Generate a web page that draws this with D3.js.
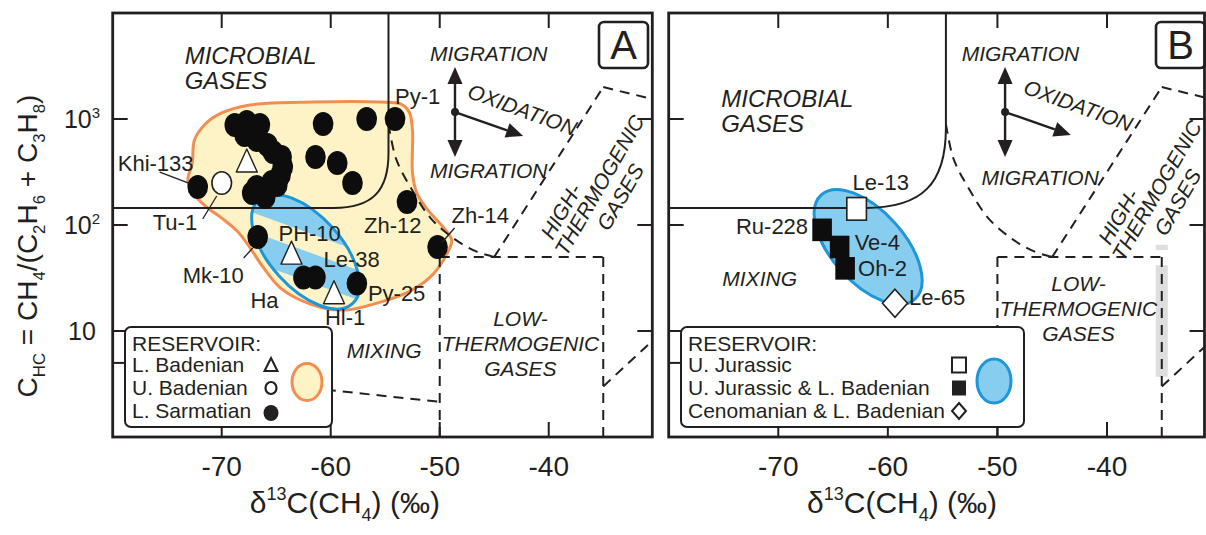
<!DOCTYPE html>
<html>
<head>
<meta charset="utf-8">
<script src="https://cdn.jsdelivr.net/npm/d3@7"></script>
<style>
  html, body { margin: 0; padding: 0; background: #fff; }
  svg { display: block; }
</style>
</head>
<body>
<svg id="chart" width="1206" height="535"></svg>
<script>
// ---------------------------------------------------------------------------
// Data: δ13C(CH4) in ‰ and C_HC = CH4/(C2H6 + C3H8)
// ---------------------------------------------------------------------------
const xTickValues = [-70, -60, -50, -40];
const yTickValues = [1000, 100, 10];
const yTickExponents = ["3", "2", ""];
const yMinorTickValues = [5];

// Panel A — L. Sarmatian reservoirs (filled circles)
const sarmatianDelta = [-72.2, -68.8, -67.7, -66.5, -67.9, -66.8, -65.8, -65.3, -64.5, -64.4,
                        -64.6, -65.4, -64.9, -66.8, -67.2, -66.0, -66.7, -62.5, -61.4, -57.6,
                        -60.7, -56.7, -54.1, -61.4, -59.4, -58.0, -53.0, -50.2];
const sarmatianChc   = [228, 878, 937, 878, 706, 634, 569, 488, 438, 352,
                        296, 255, 238, 228, 200, 184, 77, 32, 32, 28,
                        897, 1000, 1000, 438, 384, 249, 165, 62];
// Panel A — L. Badenian reservoirs (triangles)
const lowerBadenianDelta = [-67.7, -63.6, -59.7];
const lowerBadenianChc   = [384, 52, 22];
// Panel A — U. Badenian reservoir (open circle)
const upperBadenianDelta = [-70.0];
const upperBadenianChc   = [249];

// Panel A — sample names and the sample each one refers to
const labelNamesA = ["Py-1", "Khi-133", "Tu-1", "Mk-10", "Ha", "Le-38", "PH-10", "Hl-1", "Py-25", "Zh-12", "Zh-14"];
const labelDeltaA = [-54.1, -72.2, -70.0, -66.7, -62.5, -61.4, -63.6, -59.7, -57.6, -53.0, -50.2];
const labelChcA   = [1000, 228, 249, 77, 32, 32, 52, 22, 28, 165, 62];

// Panel A — envelope of the L. Sarmatian + Badenian gases
const envelopeDelta = [-72.7, -72.5, -71.5, -70.0, -67.4, -61.6, -55.5, -53.6, -52.8, -52.5,
                       -52.5, -52.1, -51.1, -49.7, -48.9, -49.5, -50.9, -53.0, -55.7, -58.5,
                       -60.7, -62.8, -64.7, -66.2, -67.4, -68.5, -70.0, -71.5, -72.6, -73.1];
const envelopeChc   = [384, 634, 897, 1140, 1355, 1446, 1446, 1386, 1164, 787,
                       310, 200, 139, 96, 72, 50, 32, 23, 18.4, 15.8,
                       16.5, 19.6, 26, 40, 61, 86, 116, 151, 200, 266];

// Panel B — U. Jurassic (open square)
const jurassicDelta = [-62.85];
const jurassicChc   = [142];
// Panel B — U. Jurassic & L. Badenian (filled squares)
const jurBadenianDelta = [-66.0, -64.4, -63.9];
const jurBadenianChc   = [90, 62, 39];
// Panel B — Cenomanian & L. Badenian (diamond)
const cenomanianDelta = [-59.35];
const cenomanianChc   = [18.3];

const labelNamesB = ["Le-13", "Ru-228", "Ve-4", "Oh-2", "Le-65"];
const labelDeltaB = [-62.85, -66.0, -64.4, -63.9, -59.35];
const labelChcB   = [142, 90, 62, 39, 18.3];

// Centre of the Jurassic-type gas ellipse in each panel [δ13C, C_HC]
const ellipseCentreA = [-62.3, 56];
const ellipseCentreB = [-61.8, 62];

// Genetic field boundaries (Bernard-type diagram)
const microbialMaxDelta = -54.7;
const microbialMinChc = 145;
const mixingCurveDelta = [-54.7, -54.0, -52.6, -50.8, -48.5, -46.6, -45.0];
const mixingCurveChc   = [900, 420, 220, 115, 72, 56, 50];
const thermoSegments = [
  [[-45, 50], [-35, 2000]],
  [[-35, 2000], [-30, 1500]],
  [[-50, 50], [-35, 50]],
  [[-50, 50], [-50, 1]],
  [[-35, 50], [-35, 1]],
  [[-35, 3], [-30, 9]]
];
const mixingLowSegmentA = [[-62, 2.9], [-50, 2.15]];
// light strip along the -35 ‰ line in panel B
const stripChcB = [[65, 58], [41.8, 3.7]];

// Field annotations [δ13C, C_HC]
const migrationTop = { A: [-45.5, 4200], B: [-47.9, 4200] };
const migrationBottom = { A: [-45.5, 330], B: [-46.1, 284] };
const oxidationPos = { A: [-42.4, 1240], B: [-42.6, 1355] };
const arrowCentre = { A: [-48.6, 1164], B: [-49.3, 1164] };
const arrowUpTip = 3093, arrowDownTip = 438;
const arrowRightTip = { A: [-42.35, 692], B: [-43.3, 707] };
const microbialPos = { A: [-73.4, 4000], B: [-75.2, 1578] };
const highThermoPos = { A: [-35.4, 240], B: [-35.5, 214] };
const lowThermoPos = { A: [-42.6, 13.2], B: [-42.6, 28.4] };
const mixingPos = { A: [-55.1, 6.6], B: [-71.7, 31.6] };
const xTitleDelta = -58.7;

// ---------------------------------------------------------------------------
// Layout and styles
// ---------------------------------------------------------------------------
const FONT = "'Liberation Sans', Arial, Helvetica, sans-serif";
const INK = "#231f20";
const YELLOW = "#fdf3c6";
const ORANGE = "#f28e52";
const BLUE_FILL = "#86cdf0";
const BLUE_LINE = "#1f96d8";

const yTop = 13, yBottom = 437;
const y = d3.scaleLog().domain([1, 1e4]).range([yBottom, yTop]);
const xA = d3.scaleLinear().domain([-80, -30.5]).range([112.7, 652.3]);
const xB = d3.scaleLinear().domain([-80, -31.1]).range([668.7, 1204.5]);

const svg = d3.select("#chart").attr("font-family", FONT);
svg.append("rect").attr("width", 1206).attr("height", 535).attr("fill", "#fff");
const defs = svg.append("defs");

// diagonal blue / yellow hatch of the ellipse in panel A
const stripes = defs.append("pattern")
  .attr("id", "stripes").attr("patternUnits", "userSpaceOnUse")
  .attr("width", 46).attr("height", 46)
  .attr("patternTransform", "translate(285,211) rotate(-28)");
stripes.append("rect").attr("width", 46).attr("height", 46).attr("fill", BLUE_FILL);
stripes.append("rect").attr("y", 27).attr("width", 46).attr("height", 18).attr("fill", YELLOW);

// ---------------------------------------------------------------------------
// Helpers
// ---------------------------------------------------------------------------
function rich(sel, parts, size) {
  let shift = 0;
  parts.forEach(p => {
    const target = p.sub ? size * 0.28 : p.sup ? -size * 0.42 : 0;
    sel.append("tspan")
      .attr("dy", target - shift)
      .attr("font-size", (p.sub || p.sup) ? size * 0.6 : size)
      .text(p.t);
    shift = target;
  });
  return sel;
}

function text(g, px, py, str, size, opts = {}) {
  return g.append("text")
    .attr("x", px).attr("y", py)
    .attr("font-size", size)
    .attr("font-style", opts.italic ? "italic" : null)
    .attr("text-anchor", opts.anchor || "start")
    .attr("fill", INK)
    .text(str);
}

function multiline(g, px, py, lines, size, gap, opts = {}) {
  const t = g.append("text")
    .attr("font-size", size)
    .attr("font-style", opts.italic ? "italic" : null)
    .attr("text-anchor", opts.anchor || "start")
    .attr("fill", INK)
    .attr("transform", `translate(${px},${py})` + (opts.rotate ? ` rotate(${opts.rotate})` : ""));
  lines.forEach((l, i) => t.append("tspan").attr("x", 0).attr("y", i * gap).text(l));
  return t;
}

function arrow(g, x0, y0, x1, y1) {
  const len = Math.hypot(x1 - x0, y1 - y0);
  const ux = (x1 - x0) / len, uy = (y1 - y0) / len;
  const hl = 17, hw = 7.5;
  const bx = x1 - ux * hl, by = y1 - uy * hl;
  g.append("line").attr("x1", x0).attr("y1", y0).attr("x2", bx).attr("y2", by)
    .attr("stroke", INK).attr("stroke-width", 2.4);
  g.append("path")
    .attr("d", `M${x1},${y1}L${bx - uy * hw},${by + ux * hw}L${bx + uy * hw},${by - ux * hw}Z`)
    .attr("fill", INK);
}

const marker = {
  circle: (g, cx, cy) => g.append("ellipse").attr("cx", cx).attr("cy", cy).attr("rx", 10.3).attr("ry", 12)
    .attr("fill", "#0d0d0d"),
  openCircle: (g, cx, cy) => g.append("ellipse").attr("cx", cx).attr("cy", cy).attr("rx", 9.8).attr("ry", 11.3)
    .attr("fill", "#fff").attr("stroke", INK).attr("stroke-width", 1.6),
  triangle: (g, cx, cy) => g.append("path")
    .attr("d", `M${cx},${cy - 14}L${cx + 10.5},${cy + 9}L${cx - 10.5},${cy + 9}Z`)
    .attr("fill", "#fff").attr("stroke", INK).attr("stroke-width", 1.4).attr("stroke-linejoin", "round"),
  square: (g, cx, cy) => g.append("rect").attr("x", cx - 9.8).attr("y", cy - 11.3).attr("width", 19.6).attr("height", 22.6)
    .attr("fill", "#fff").attr("stroke", INK).attr("stroke-width", 1.6),
  filledSquare: (g, cx, cy) => g.append("rect").attr("x", cx - 9.8).attr("y", cy - 11.3).attr("width", 19.6).attr("height", 22.6)
    .attr("fill", "#0d0d0d"),
  diamond: (g, cx, cy) => g.append("path")
    .attr("d", `M${cx},${cy - 14}L${cx + 12.5},${cy}L${cx},${cy + 14}L${cx - 12.5},${cy}Z`)
    .attr("fill", "#fff").attr("stroke", INK).attr("stroke-width", 1.6)
};

// ---------------------------------------------------------------------------
// One diagram panel
// ---------------------------------------------------------------------------
function drawPanel(key, x, cfg) {
  const g = svg.append("g");
  const [x0, x1] = x.range();
  const clipId = "clip" + key;
  defs.append("clipPath").attr("id", clipId)
    .append("rect").attr("x", x0).attr("y", yTop).attr("width", x1 - x0).attr("height", yBottom - yTop);
  const inner = g.append("g").attr("clip-path", `url(#${clipId})`);
  const line = d3.line().x(d => x(d[0])).y(d => y(d[1]));

  // gas envelope and ellipse
  if (cfg.envelope) {
    const pts = envelopeDelta.map((d, i) => [d, envelopeChc[i]]);
    inner.append("path")
      .attr("d", d3.line().x(d => x(d[0])).y(d => y(d[1])).curve(d3.curveCatmullRomClosed.alpha(0.5))(pts))
      .attr("fill", YELLOW).attr("stroke", ORANGE).attr("stroke-width", 3);
  }
  const ec = cfg.ellipse;
  const ecx = x(ec[0]), ecy = y(ec[1]);
  inner.append("ellipse")
    .attr("cx", ecx).attr("cy", ecy).attr("rx", 70).attr("ry", 36)
    .attr("transform", `rotate(48,${ecx},${ecy})`)
    .attr("fill", cfg.envelope ? "url(#stripes)" : BLUE_FILL)
    .attr("stroke", BLUE_LINE).attr("stroke-width", 3);

  if (cfg.strip) {
    cfg.strip.forEach(([c0, c1]) => {
      inner.append("rect").attr("x", x(-35) - 6).attr("width", 12)
        .attr("y", y(c0)).attr("height", y(c1) - y(c0)).attr("fill", "#dedede");
    });
  }

  // microbial field: horizontal limit, rounded corner, vertical limit
  const xv = x(microbialMaxDelta), yh = y(microbialMinChc), r = cfg.cornerRadius, k = 0.7;
  inner.append("path")
    .attr("d", `M${x0},${yh}H${xv - r}C${xv - r * (1 - k)},${yh} ${xv},${yh - r * (1 - k)} ${xv},${yh - r}V${yTop}`)
    .attr("fill", "none").attr("stroke", INK).attr("stroke-width", 2);

  // dashed boundaries
  const dash = sel => sel.attr("fill", "none").attr("stroke", INK).attr("stroke-width", 2).attr("stroke-dasharray", "10,7");
  inner.append("path")
    .attr("d", line.curve(d3.curveCatmullRom.alpha(0.5))(mixingCurveDelta.map((d, i) => [d, mixingCurveChc[i]])))
    .call(dash);
  line.curve(d3.curveLinear);
  thermoSegments.forEach(seg => inner.append("path").attr("d", line(seg)).call(dash));
  if (cfg.mixingLow) inner.append("path").attr("d", line(cfg.mixingLow)).call(dash);

  // migration / oxidation arrows
  const ac = arrowCentre[key];
  const acx = x(ac[0]), acy = y(ac[1]);
  arrow(g, acx, acy, acx, y(arrowUpTip));
  arrow(g, acx, acy, acx, y(arrowDownTip));
  arrow(g, acx, acy, x(arrowRightTip[key][0]), y(arrowRightTip[key][1]));
  g.append("circle").attr("cx", acx).attr("cy", acy).attr("r", 4).attr("fill", INK);

  // samples
  cfg.series.forEach(s => s.delta.forEach((d, i) => marker[s.shape](g, x(d), y(s.chc[i]))));

  // leader lines from names to samples
  cfg.labels.names.forEach((name, i) => {
    const px = x(cfg.labels.delta[i]), py = y(cfg.labels.chc[i]);
    const o = cfg.labelLayout[name];
    if (o.lead) {
      g.append("line")
        .attr("x1", px + o.lead[0]).attr("y1", py + o.lead[1])
        .attr("x2", px + o.lead[2]).attr("y2", py + o.lead[3])
        .attr("stroke", INK).attr("stroke-width", 1.3);
    }
    text(g, px + o.dx, py + o.dy + 8, name, 22, { anchor: o.anchor });
  });

  // field names
  const it = { italic: true };
  multiline(g, x(microbialPos[key][0]), y(microbialPos[key][1]) + 9, ["MICROBIAL", "GASES"], 24, 25, it);
  text(g, x(migrationTop[key][0]), y(migrationTop[key][1]) + 8, "MIGRATION", 21, { italic: true, anchor: "middle" });
  text(g, x(migrationBottom[key][0]), y(migrationBottom[key][1]) + 8, "MIGRATION", 21, { italic: true, anchor: "middle" });
  multiline(g, x(oxidationPos[key][0]), y(oxidationPos[key][1]), ["OXIDATION"], 21,
    0, { italic: true, anchor: "middle", rotate: 20 }).attr("dominant-baseline", "central");
  const ht = multiline(g, x(highThermoPos[key][0]), y(highThermoPos[key][1]), ["HIGH-", "THERMOGENIC", "GASES"], 21, 24,
    { italic: true, anchor: "middle", rotate: -60 });
  ht.selectAll("tspan")
    .attr("y", (d, i) => i === 0 ? -12 : (i - 1) * 24 + 8)
    .attr("x", (d, i) => i === 0 ? -42 : 0);
  multiline(g, x(lowThermoPos[key][0]), y(lowThermoPos[key][1]) + 8, ["LOW-", "THERMOGENIC", "GASES"], 21, 25,
    { italic: true, anchor: "middle" });
  text(g, x(mixingPos[key][0]), y(mixingPos[key][1]) + 8, "MIXING", 21, { italic: true, anchor: "middle" });

  // frame ticks
  const tick = (xa, ya, xb, yb) => g.append("line").attr("x1", xa).attr("y1", ya).attr("x2", xb).attr("y2", yb)
    .attr("stroke", INK).attr("stroke-width", 2);
  xTickValues.forEach(v => { tick(x(v), yBottom, x(v), yBottom - 15); tick(x(v), yTop, x(v), yTop + 15); });
  yTickValues.forEach(v => { tick(x0, y(v), x0 + 15, y(v)); tick(x1, y(v), x1 - 15, y(v)); });
  yMinorTickValues.forEach(v => tick(x0, y(v), x0 + 15, y(v)));

  // legend
  const L = cfg.legend;
  const lg = g.append("g");
  lg.append("rect").attr("x", L.x).attr("y", 327).attr("width", L.w).attr("height", 100)
    .attr("rx", 6).attr("fill", "#fff").attr("stroke", INK).attr("stroke-width", 2);
  text(lg, L.x + 7, 351, "RESERVOIR:", 21);
  L.rows.forEach((row, i) => {
    const ty = 372 + i * 23;
    text(lg, L.x + 7, ty, row.name, 21);
    row.draw(lg, L.symX, ty - 7);
  });
  L.area(lg);

  // panel letter
  const pl = cfg.letter;
  g.append("rect").attr("x", pl.x).attr("y", 22).attr("width", 49).attr("height", 46).attr("rx", 5)
    .attr("fill", "#fff").attr("stroke", INK).attr("stroke-width", 2.6);
  text(g, pl.x + 24.5, 59, key, 40, { anchor: "middle" });

  // frame
  g.append("rect").attr("x", x0).attr("y", yTop).attr("width", x1 - x0).attr("height", yBottom - yTop)
    .attr("fill", "none").attr("stroke", INK).attr("stroke-width", 2.8);

  // x axis tick labels and title
  xTickValues.forEach(v => text(g, x(v), 476, String(v), 28, { anchor: "middle" }));
  const xt = g.append("text").attr("x", x(xTitleDelta)).attr("y", 513).attr("text-anchor", "middle")
    .attr("fill", INK).attr("font-size", 30);
  rich(xt, [{ t: "δ" }, { t: "13", sup: true }, { t: "C(CH" }, { t: "4", sub: true }, { t: ") (‰)" }], 30);
}

// ---------------------------------------------------------------------------
// Panels
// ---------------------------------------------------------------------------
drawPanel("A", xA, {
  envelope: true,
  ellipse: ellipseCentreA,
  cornerRadius: 55,
  mixingLow: mixingLowSegmentA,
  series: [
    { delta: sarmatianDelta, chc: sarmatianChc, shape: "circle" },
    { delta: upperBadenianDelta, chc: upperBadenianChc, shape: "openCircle" },
    { delta: lowerBadenianDelta, chc: lowerBadenianChc, shape: "triangle" }
  ],
  labels: { names: labelNamesA, delta: labelDeltaA, chc: labelChcA },
  labelLayout: {
    "Py-1":   { dx: 0,   dy: -23 },
    "Khi-133":{ dx: -80, dy: -24, lead: [-38, -15, -9, -4] },
    "Tu-1":   { dx: -69, dy: 39,  lead: [-19, 36, -5, 13] },
    "Mk-10":  { dx: -75, dy: 38,  lead: [-14, 21, -5, 11] },
    "Ha":     { dx: -53, dy: 23 },
    "Le-38":  { dx: 8,   dy: -18 },
    "PH-10":  { dx: -13, dy: -22 },
    "Hl-1":   { dx: -9,  dy: 22 },
    "Py-25":  { dx: 11,  dy: 9 },
    "Zh-12":  { dx: -43, dy: 23 },
    "Zh-14":  { dx: 14,  dy: -32, lead: [17, -19, 4, -4] }
  },
  legend: {
    x: 125, w: 207, symX: 271,
    rows: [
      { name: "L. Badenian", draw: (g, cx, cy) => g.append("path")
          .attr("d", `M${cx},${cy - 7}L${cx + 6.5},${cy + 6}L${cx - 6.5},${cy + 6}Z`)
          .attr("fill", "#fff").attr("stroke", INK).attr("stroke-width", 2) },
      { name: "U. Badenian", draw: (g, cx, cy) => g.append("ellipse").attr("cx", cx).attr("cy", cy)
          .attr("rx", 5.5).attr("ry", 6).attr("fill", "#fff").attr("stroke", INK).attr("stroke-width", 2.2) },
      { name: "L. Sarmatian", draw: (g, cx, cy) => g.append("ellipse").attr("cx", cx).attr("cy", cy + 2)
          .attr("rx", 7.5).attr("ry", 8).attr("fill", INK) }
    ],
    area: g => g.append("ellipse").attr("cx", 307).attr("cy", 382).attr("rx", 15).attr("ry", 18.5)
      .attr("fill", YELLOW).attr("stroke", ORANGE).attr("stroke-width", 3)
  },
  letter: { x: 599 }
});

drawPanel("B", xB, {
  envelope: false,
  ellipse: ellipseCentreB,
  cornerRadius: 80,
  strip: stripChcB,
  series: [
    { delta: jurBadenianDelta, chc: jurBadenianChc, shape: "filledSquare" },
    { delta: jurassicDelta, chc: jurassicChc, shape: "square" },
    { delta: cenomanianDelta, chc: cenomanianChc, shape: "diamond" }
  ],
  labels: { names: labelNamesB, delta: labelDeltaB, chc: labelChcB },
  labelLayout: {
    "Le-13":  { dx: -4,  dy: -27 },
    "Ru-228": { dx: -14, dy: -4, anchor: "end" },
    "Ve-4":   { dx: 15,  dy: -5 },
    "Oh-2":   { dx: 13,  dy: 0 },
    "Le-65":  { dx: 14,  dy: -6 }
  },
  legend: {
    x: 681, w: 343, symX: 959,
    rows: [
      { name: "U. Jurassic", draw: (g, cx, cy) => g.append("rect").attr("x", cx - 7).attr("y", cy - 7.5)
          .attr("width", 14).attr("height", 15).attr("fill", "#fff").attr("stroke", INK).attr("stroke-width", 2) },
      { name: "U. Jurassic & L. Badenian", draw: (g, cx, cy) => g.append("rect").attr("x", cx - 7).attr("y", cy - 7.5)
          .attr("width", 14).attr("height", 15).attr("fill", INK) },
      { name: "Cenomanian & L. Badenian", draw: (g, cx, cy) => g.append("path")
          .attr("d", `M${cx},${cy - 8}L${cx + 7},${cy}L${cx},${cy + 8}L${cx - 7},${cy}Z`)
          .attr("fill", "#fff").attr("stroke", INK).attr("stroke-width", 2) }
    ],
    area: g => g.append("ellipse").attr("cx", 994).attr("cy", 381).attr("rx", 17).attr("ry", 22)
      .attr("fill", BLUE_FILL).attr("stroke", BLUE_LINE).attr("stroke-width", 3)
  },
  letter: { x: 1156 }
});

// y axis of panel A: tick labels and title
yTickValues.forEach((v, i) => {
  const t = svg.append("text").attr("x", 82).attr("y", y(v) + 9).attr("text-anchor", "middle")
    .attr("fill", INK).attr("font-size", 25);
  rich(t, yTickExponents[i] ? [{ t: "10" }, { t: yTickExponents[i], sup: true }] : [{ t: "10" }], 25);
});
const yt = svg.append("text").attr("transform", `translate(37,${246}) rotate(-90)`)
  .attr("text-anchor", "middle").attr("fill", INK).attr("font-size", 28);
rich(yt, [{ t: "C" }, { t: "HC", sub: true }, { t: " = CH" }, { t: "4", sub: true }, { t: "/(C" }, { t: "2", sub: true },
  { t: "H" }, { t: "6", sub: true }, { t: " + C" }, { t: "3", sub: true }, { t: "H" }, { t: "8", sub: true }, { t: ")" }], 28);
</script>
</body>
</html>
